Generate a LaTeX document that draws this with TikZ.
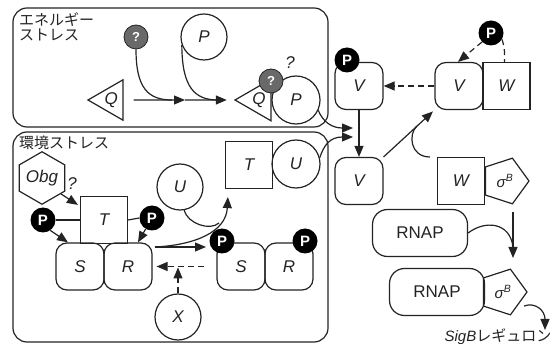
\documentclass[tikz,border=0pt]{standalone}
\usepackage{fontspec}
\setmainfont{Liberation Sans}
\newfontfamily\jp{Noto Sans CJK JP}
\usetikzlibrary{shapes.geometric,arrows.meta,calc}
\definecolor{ink}{RGB}{35,35,35}
\definecolor{unkfill}{RGB}{105,105,105}
\begin{document}
\begin{tikzpicture}[x=1pt,y=-1pt,
  every node/.style={inner sep=0pt, font=\fontsize{17}{17}\selectfont\itshape, text=ink},
  region/.style={draw=ink, rounded corners=14pt, line width=1.2pt},
  boxtitle/.style={anchor=north west, align=left, font=\jp\fontsize{15}{15}\selectfont},
  roundbox/.style={draw=ink, line width=1.2pt, rounded corners=11pt, minimum width=48pt, minimum height=47pt},
  squarebox/.style={draw=ink, line width=1.2pt, minimum width=47pt, minimum height=47pt},
  ball/.style={draw=ink, line width=1.2pt, circle, minimum size=46pt},
  phos/.style={circle, fill=black, minimum size=25pt, text=white, font=\fontsize{15}{15}\selectfont\bfseries},
  unk/.style={circle, fill=unkfill, draw=ink, line width=0.8pt, minimum size=24pt, text=white, font=\fontsize{13}{13}\selectfont\bfseries},
  tri/.style={draw=ink, line width=1.2pt, regular polygon, regular polygon sides=3, shape border rotate=90},
  penta/.style={draw=ink, line width=1.2pt, regular polygon, regular polygon sides=5, shape border rotate=-90, minimum size=48pt, font=\fontsize{15}{15}\selectfont\itshape},
  hexa/.style={draw=ink, line width=1.2pt, regular polygon, regular polygon sides=6, shape border rotate=30, minimum size=45pt},
  rnap/.style={draw=ink, line width=1.2pt, rounded corners=15pt, minimum width=95pt, minimum height=47pt, font=\fontsize{17}{17}\selectfont\upshape},
  link/.style={draw=ink, line width=1.2pt},
  arr/.style={link, -{Triangle[length=11pt,width=9pt]}},
  dsh/.style={dash pattern=on 6pt off 4pt}
]
\useasboundingbox (0,0) rectangle (551,344);

% stress compartments
\node[region, minimum width=315pt, minimum height=119pt] (energy) at (170.5,67.5) {};
\node[region, minimum width=315pt, minimum height=210pt] (envir) at (170.5,237) {};
\node[boxtitle] (energytitle) at (19,13) {エネルギー\\ストレス};
\node[boxtitle] (envirtitle) at (19,136) {環境ストレス};

% energy stress
\node[unk] (qa) at (136,37) {?};
\node[ball] (pa) at (204,37) {P};
\node[tri, minimum size=46.6pt] (qtri) at (111.3,100) {Q};
\node[tri, minimum size=48pt] (qtrib) at (259,100) {Q};
\node[ball, minimum size=48pt] (pb) at (296,100) {P};
\node[unk] (qb) at (271,81) {?};
\node (qmark) at (290,63) {?};

\coordinate (jq) at (185,100);
\coordinate (jqa) at (172,100);
\coordinate (jqb) at (218,100);
\draw[arr] ([xshift=10pt]qtri.east) -- (jq);
\draw[arr] (jq) -- ([xshift=-7pt]qtrib.west);
\draw[link] (qa.south) .. controls (136,88) and (148,100) .. (jqa);
\draw[link] (pa.200) .. controls (182,88) and (195,100) .. (jqb);

% environmental stress
\node[hexa] (obg) at (42,178) {Obg};
\node (obgq) at (72,184) {?};
\node[squarebox] (ta) at (104,220) {T};
\node[roundbox] (sa) at (80,266.5) {S};
\node[roundbox] (rra) at (128,266.5) {R};
\node[phos] (pl) at (43,220) {P};
\node[phos] (pr) at (152,218) {P};
\node[ball] (ua) at (180,187) {U};
\node[squarebox] (tb) at (249,165) {T};
\node[ball, minimum size=48pt] (ub) at (296,164) {U};
\node[roundbox] (sb) at (241,266.5) {S};
\node[roundbox] (rrb) at (289,266.5) {R};
\node[phos] (psb) at (222,241) {P};
\node[phos] (prb) at (305,241) {P};
\node[ball] (xa) at (178,317) {X};

\draw[arr] (obg.-40) -- ($(ta.north west)+(-2,9)$);
\draw[link] (pl.east) -- (ta.west);
\draw[link] (ta.east) -- (pr.west);
\draw[arr] (pl.-55) -- ([xshift=-12pt]sa.north);
\draw[arr] (pr.-120) -- ([xshift=10pt]rra.north);

\coordinate (ro) at (155,247);
\coordinate (si) at (206,247);
\coordinate (uj) at (219,223);
\draw[arr] (ro) -- (si);
\draw[arr] (ro) .. controls (195,245) and (226,232) .. ($(tb.south west)+(3,8)$);
\draw[link] (ua.-80) .. controls (188,224) and (210,231) .. (uj);
\draw[arr, dsh, shorten <=12pt, shorten >=4pt] (sb.west) -- (rra.east);
\draw[arr, dsh, shorten >=1pt] (xa.north) -- (xa.north |- rra.east);

% sigma-B partner switching
\node[roundbox] (va) at (359,86) {V};
\node[phos] (pva) at (347,60) {P};
\node[roundbox] (vb) at (459,86) {V};
\node[squarebox] (wa) at (506.5,86) {W};
\node[phos] (pvw) at (491,33) {P};
\node[roundbox] (vc) at (359,181) {V};
\node[squarebox] (wb) at (461,181) {W};
\node[penta] (sga) at (505,181) {σ\textsuperscript{B}};
\node[rnap] (ra) at (420,233) {RNAP};
\node[rnap] (rb) at (437,292) {RNAP};
\node[penta] (sgb) at (503,292) {σ\textsuperscript{B}};
\node[font=\fontsize{15}{15}\selectfont] (reg) at (498,337) {\itshape SigB\upshape{\jp レギュロン}};

\coordinate (ja) at (353,128);
\coordinate (jb) at (353,137);
\draw[arr] (pb.-25) .. controls (323,122) and (332,128) .. (ja);
\draw[arr] (ub.15) .. controls (324,145) and (330,137) .. (jb);

\draw[arr, dsh] (pvw.225) -- ([xshift=-1pt]vb.north);
\draw[link, dsh] (pvw.-30) .. controls (504,45) and (505,52) .. ([xshift=-2pt]wa.north);
\draw[arr, dsh] (vb.west) -- (va.east);
\draw[arr] (va.south) -- (vc.north);
\draw[arr, shorten >=2pt] (vc.north east) -- (vb.south west);
\coordinate (wtail) at (430,157);
\coordinate (wj) at (417,126);
\draw[link] (wtail) .. controls (410,157) and (408,134) .. (wj);

\coordinate (fa) at (513,212);
\coordinate (fb) at (513,258);
\coordinate (fj) at (513,247);
\draw[arr] (fa) -- (fb);
\draw[link] (ra.east) .. controls (485,220) and (510,222) .. (fj);

\coordinate (ga) at (524,306);
\coordinate (gb) at (545,330);
\draw[arr] (ga) .. controls (535,302) and (545,310) .. (gb);
\end{tikzpicture}
\end{document}
